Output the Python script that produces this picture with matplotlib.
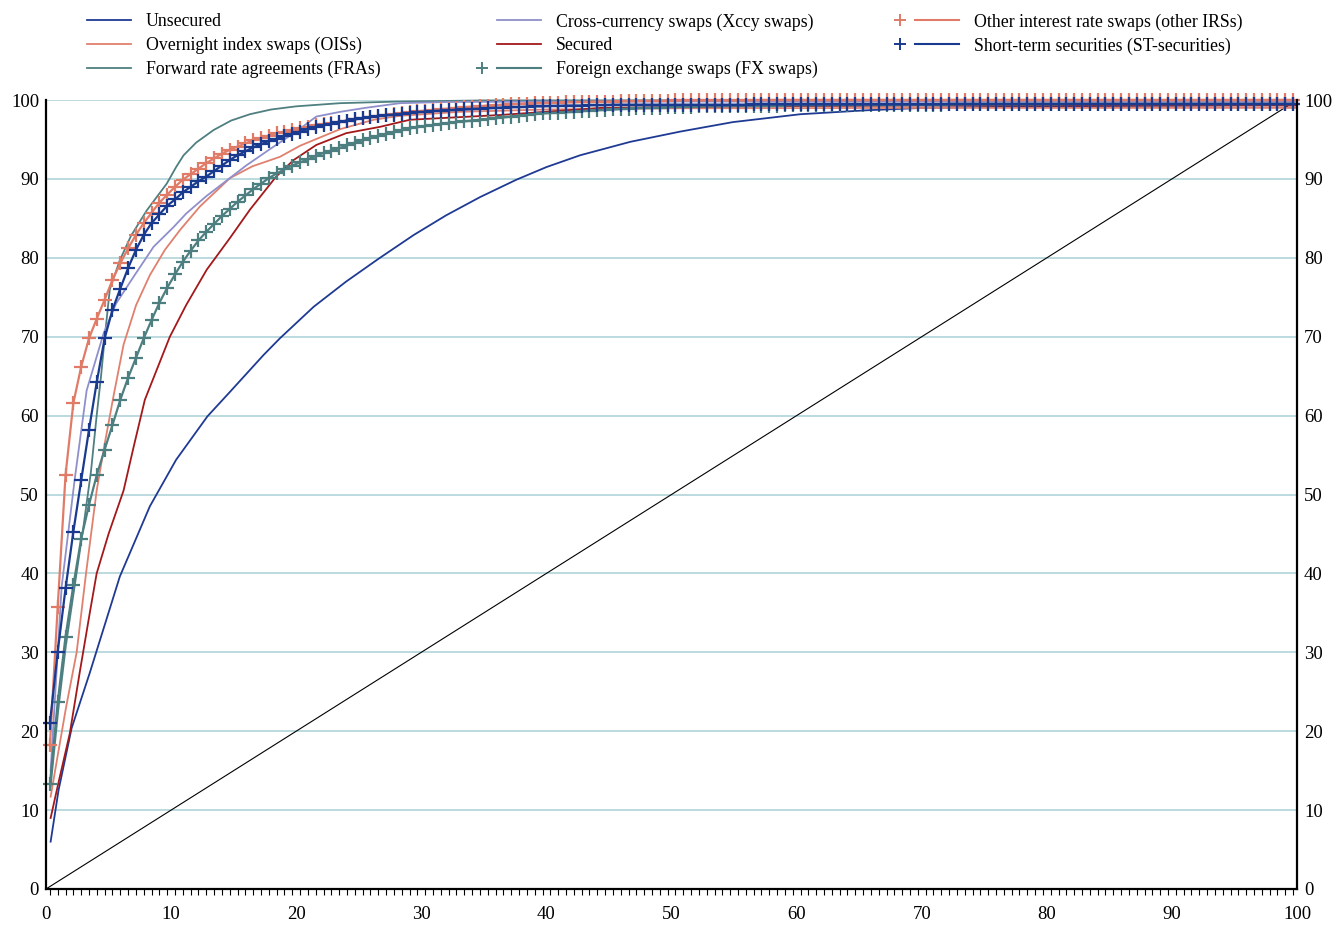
import numpy as np
import matplotlib
matplotlib.use("Agg")
import matplotlib.pyplot as plt
from matplotlib.lines import Line2D
from matplotlib.legend_handler import HandlerBase

plt.rcParams["font.family"] = ["Liberation Serif", "DejaVu Serif"]

# --- Données : parts cumulées (%) ---
# séries sans marqueurs : points
unsecured_x = [0.37, 1.0, 2.05, 3.5, 5.9, 8.3, 10.4, 12.9, 14.7, 17.4, 18.7, 21.4, 24.0, 26.6,
               29.4, 32.0, 34.7, 37.6, 40.0, 42.7, 46.7, 50.7, 54.9, 60.3, 65.6, 70.0, 75.0,
               80.0, 90.0, 100.0]
unsecured_y = [6.0, 12.5, 20.4, 27.4, 39.6, 48.5, 54.4, 59.9, 63.0, 67.7, 69.8, 73.8, 77.0, 79.9,
               82.9, 85.4, 87.7, 89.9, 91.5, 93.0, 94.7, 96.0, 97.2, 98.2, 98.7, 99.0, 99.1,
               99.2, 99.3, 99.4]

ois_x = [0.37, 1.0, 1.6, 2.45, 3.2, 4.05, 4.7, 5.4, 6.2, 7.2, 8.3, 9.5, 10.7, 12.3, 14.7,
         16.5, 18.7, 20.3, 23.5, 26.2, 28.3, 33.0, 40.0, 50.0, 70.0, 100.0]
ois_y = [11.7, 17.5, 23.0, 30.0, 40.0, 50.5, 56.5, 62.5, 69.0, 74.0, 77.8, 81.0, 83.5, 86.5,
         90.1, 91.6, 92.8, 94.2, 96.3, 97.5, 98.0, 98.5, 98.8, 98.95, 99.0, 99.0]

fra_x = [0.37, 1.0, 1.6, 2.3, 3.0, 3.6, 4.05, 4.4, 4.7, 5.1, 5.9, 6.8, 8.05, 9.65, 10.4, 11.0,
         12.0, 13.4, 14.8, 16.3, 18.0, 20.0, 23.5, 28.0, 35.0, 100.0]
fra_y = [13.0, 23.0, 31.0, 38.5, 46.0, 53.0, 60.0, 65.0, 70.0, 76.0, 79.7, 82.8, 86.0, 89.4,
         91.5, 93.0, 94.6, 96.2, 97.4, 98.2, 98.8, 99.2, 99.6, 99.8, 99.95, 100.0]

xccy_x = [0.37, 1.25, 2.3, 3.25, 4.6, 5.6, 7.0, 8.6, 10.2, 11.2, 12.8, 14.2, 16.0, 18.2, 20.0,
          21.6, 23.5, 25.5, 28.3, 32.0, 40.0, 60.0, 100.0]
xccy_y = [15.0, 38.3, 52.0, 63.2, 70.4, 74.2, 77.6, 81.4, 83.9, 85.6, 87.8, 89.5, 91.7, 94.1,
          96.0, 97.9, 98.5, 99.0, 99.6, 99.75, 99.8, 99.8, 99.8]

secured_x = [0.37, 1.0, 1.9, 2.7, 3.5, 4.05, 5.0, 6.2, 7.0, 7.9, 9.9, 11.2, 12.85, 14.7, 16.3,
             18.4, 19.8, 21.6, 24.0, 26.7, 29.1, 36.3, 44.3, 55.0, 70.0, 100.0]
secured_y = [9.0, 13.5, 19.7, 27.5, 35.0, 40.0, 45.0, 50.5, 56.0, 62.0, 70.0, 74.0, 78.5, 82.5,
             86.1, 90.3, 92.4, 94.3, 95.8, 96.6, 97.5, 98.1, 99.0, 99.2, 99.3, 99.3]

# séries avec marqueurs : une valeur par établissement (160 points)
fx_swaps = [
    13.3, 23.7, 32.0, 38.5, 44.4, 48.7, 52.5, 55.7, 58.8, 62.0,
    64.8, 67.3, 69.8, 72.1, 74.3, 76.2, 77.9, 79.5, 80.9, 82.2,
    83.3, 84.3, 85.3, 86.2, 87.1, 87.9, 88.7, 89.4, 90.1, 90.7,
    91.2, 91.7, 92.1, 92.5, 92.9, 93.3, 93.6, 93.9, 94.25, 94.6,
    94.9, 95.2, 95.45, 95.7, 95.95, 96.2, 96.4, 96.55, 96.7, 96.85,
    97.0, 97.1, 97.2, 97.3, 97.4, 97.5, 97.6, 97.7, 97.8, 97.9,
    98.0, 98.1, 98.2, 98.3, 98.35, 98.4, 98.45, 98.5, 98.6, 98.65,
    98.7, 98.75, 98.8, 98.85, 98.9, 98.95, 99.0, 99.0, 99.05, 99.1,
    99.1, 99.15, 99.15, 99.2, 99.2, 99.2, 99.25, 99.25, 99.25, 99.3,
    99.3, 99.3, 99.3, 99.3, 99.35, 99.35, 99.35, 99.35, 99.35, 99.35,
    99.4, 99.4, 99.4, 99.4, 99.4, 99.4, 99.4, 99.4, 99.4, 99.4,
    99.4, 99.4, 99.4, 99.4, 99.4, 99.45, 99.45, 99.45, 99.45, 99.45,
    99.45, 99.45, 99.45, 99.45, 99.45, 99.45, 99.45, 99.45, 99.45, 99.45,
    99.5, 99.5, 99.5, 99.5, 99.5, 99.5, 99.5, 99.5, 99.5, 99.5,
    99.5, 99.5, 99.5, 99.5, 99.5, 99.5, 99.5, 99.5, 99.5, 99.5,
    99.5, 99.5, 99.5, 99.5, 99.5, 99.5, 99.5, 99.5, 99.5, 99.5,
]

other_irs = [
    18.3, 35.8, 52.5, 61.6, 66.2, 69.8, 72.3, 74.7, 77.2, 79.3,
    81.2, 82.9, 84.4, 85.7, 87.0, 88.0, 89.0, 89.9, 90.6, 91.3,
    92.0, 92.6, 93.2, 93.7, 94.1, 94.5, 94.9, 95.2, 95.5, 95.8,
    96.0, 96.2, 96.4, 96.6, 96.8, 96.95, 97.1, 97.25, 97.4, 97.55,
    97.7, 97.8, 97.95, 98.1, 98.2, 98.35, 98.45, 98.55, 98.65, 98.75,
    98.85, 98.9, 99.0, 99.1, 99.15, 99.2, 99.3, 99.35, 99.4, 99.45,
    99.5, 99.55, 99.6, 99.6, 99.65, 99.65, 99.7, 99.7, 99.75, 99.75,
    99.8, 99.8, 99.8, 99.85, 99.85, 99.85, 99.9, 99.9, 99.9, 99.9,
    99.95, 99.95, 99.95, 99.95, 99.95, 99.95, 99.95, 99.95, 99.95, 99.95,
    100.0, 100.0, 100.0, 100.0, 100.0, 100.0, 100.0, 100.0, 100.0, 100.0,
    100.0, 100.0, 100.0, 100.0, 100.0, 100.0, 100.0, 100.0, 100.0, 100.0,
    100.0, 100.0, 100.0, 100.0, 100.0, 100.0, 100.0, 100.0, 100.0, 100.0,
    100.0, 100.0, 100.0, 100.0, 100.0, 100.0, 100.0, 100.0, 100.0, 100.0,
    100.0, 100.0, 100.0, 100.0, 100.0, 100.0, 100.0, 100.0, 100.0, 100.0,
    100.0, 100.0, 100.0, 100.0, 100.0, 100.0, 100.0, 100.0, 100.0, 100.0,
    100.0, 100.0, 100.0, 100.0, 100.0, 100.0, 100.0, 100.0, 100.0, 100.0,
]

st_securities = [
    21.0, 30.1, 38.1, 45.3, 51.8, 58.2, 64.3, 69.8, 73.4, 76.1,
    78.7, 81.0, 82.9, 84.4, 85.5, 86.6, 87.4, 88.3, 89.0, 89.7,
    90.3, 91.0, 91.7, 92.4, 93.0, 93.5, 94.0, 94.4, 94.8, 95.1,
    95.4, 95.7, 96.0, 96.3, 96.6, 96.8, 97.0, 97.2, 97.4, 97.55,
    97.7, 97.85, 97.95, 98.05, 98.15, 98.25, 98.35, 98.45, 98.5, 98.6,
    98.65, 98.7, 98.75, 98.8, 98.85, 98.9, 98.95, 99.0, 99.05, 99.1,
    99.1, 99.15, 99.2, 99.2, 99.25, 99.25, 99.3, 99.3, 99.3, 99.35,
    99.35, 99.35, 99.4, 99.4, 99.4, 99.4, 99.4, 99.4, 99.4, 99.4,
    99.4, 99.4, 99.4, 99.4, 99.4, 99.4, 99.4, 99.4, 99.4, 99.4,
    99.45, 99.45, 99.45, 99.45, 99.45, 99.45, 99.45, 99.45, 99.45, 99.45,
    99.45, 99.45, 99.45, 99.45, 99.45, 99.45, 99.45, 99.45, 99.45, 99.45,
    99.45, 99.45, 99.45, 99.45, 99.45, 99.5, 99.5, 99.5, 99.5, 99.5,
    99.5, 99.5, 99.5, 99.5, 99.5, 99.5, 99.5, 99.5, 99.5, 99.5,
    99.5, 99.5, 99.5, 99.5, 99.5, 99.5, 99.5, 99.5, 99.5, 99.5,
    99.5, 99.5, 99.5, 99.5, 99.5, 99.5, 99.5, 99.5, 99.5, 99.5,
    99.5, 99.5, 99.5, 99.5, 99.5, 99.5, 99.5, 99.5, 99.5, 99.5,
]

# droite d'égalité
equality = [0, 100]

# couleurs
C_UNSEC = "#1f3a93"
C_OIS = "#e0806e"
C_FRA = "#4f7f80"
C_XCCY = "#8f8fcc"
C_SEC = "#a3191b"
C_FX = "#4e7f80"
C_IRS = "#e07b68"
C_ST = "#1a3a8f"
C_GRID = "#a9cfd6"


class HandlerMarkerLeft(HandlerBase):
    """Poignée de légende : marqueur '+' à gauche, puis le trait."""

    def create_artists(self, legend, orig_handle, xdescent, ydescent,
                       width, height, fontsize, trans):
        y = height / 2 - ydescent
        line = Line2D([-xdescent, width - xdescent], [y, y],
                      color=orig_handle.get_color(), lw=1.5)
        mark = Line2D([-xdescent - 0.85 * fontsize], [y], marker="+",
                      ms=8, mew=1.4, color=orig_handle.get_color(), ls="none")
        line.set_transform(trans)
        mark.set_transform(trans)
        return [line, mark]


def main():
    n = len(st_securities)
    x_pts = (np.arange(n) + 0.5) * 100.0 / n

    fig = plt.figure(figsize=(13.38, 9.27), dpi=100)
    ax = fig.add_axes([0.03438, 0.041, 0.935, 0.8511])

    common = dict(clip_on=False, solid_joinstyle="round")
    ax.plot(equality, equality, color="black", lw=0.8, **common)

    h_unsec, = ax.plot(unsecured_x, unsecured_y, color=C_UNSEC, lw=1.3, **common)
    h_ois, = ax.plot(ois_x, ois_y, color=C_OIS, lw=1.3, **common)
    h_fra, = ax.plot(fra_x, fra_y, color=C_FRA, lw=1.3, **common)
    h_xccy, = ax.plot(xccy_x, xccy_y, color=C_XCCY, lw=1.3, **common)
    h_sec, = ax.plot(secured_x, secured_y, color=C_SEC, lw=1.3, **common)
    h_fx, = ax.plot(x_pts, fx_swaps, color=C_FX, lw=1.6, marker="+", ms=10, mew=1.6, **common)
    h_irs, = ax.plot(x_pts, other_irs, color=C_IRS, lw=1.6, marker="+", ms=10, mew=1.6, **common)
    h_st, = ax.plot(x_pts, st_securities, color=C_ST, lw=1.6, marker="+", ms=10, mew=1.6, **common)

    # axes
    ax.set_xlim(0, 100)
    ax.set_ylim(0, 100)
    ax.set_xticks(np.arange(0, 101, 10))
    ax.set_xticks(x_pts, minor=True)
    ax.set_yticks(np.arange(0, 101, 10))
    ax.tick_params(axis="x", which="major", length=0, pad=12, labelsize=13.5)
    ax.tick_params(axis="x", which="minor", length=4, width=0.8, direction="out")
    ax.tick_params(axis="y", which="both", length=0, labelsize=13.5,
                   left=True, right=True, labelleft=True, labelright=True, pad=5)

    for y in range(10, 101, 10):
        ax.axhline(y, color=C_GRID, lw=1.1, zorder=0)

    ax.spines["top"].set_visible(False)
    for side in ("left", "right", "bottom"):
        ax.spines[side].set_linewidth(1.6)
        ax.spines[side].set_color("black")

    # légende en trois colonnes
    fs = 12.8
    leg_kw = dict(frameon=False, fontsize=fs, handlelength=2.45, handletextpad=0.85,
                  labelspacing=0.38, borderpad=0, borderaxespad=0, loc="upper left")
    hmap = {h_fx: HandlerMarkerLeft(), h_irs: HandlerMarkerLeft(), h_st: HandlerMarkerLeft()}

    top = 0.9856
    fig.legend([h_unsec, h_ois, h_fra],
               ["Unsecured", "Overnight index swaps (OISs)", "Forward rate agreements (FRAs)"],
               bbox_to_anchor=(0.065, top), **leg_kw)
    fig.legend([h_xccy, h_sec, h_fx],
               ["Cross-currency swaps (Xccy swaps)", "Secured", "Foreign exchange swaps (FX swaps)"],
               bbox_to_anchor=(0.3715, top), handler_map=hmap, **leg_kw)
    fig.legend([h_irs, h_st],
               ["Other interest rate swaps (other IRSs)", "Short-term securities (ST-securities)"],
               bbox_to_anchor=(0.684, top), handler_map=hmap, **leg_kw)

    fig.savefig("out.png", dpi=100)
    plt.close(fig)


if __name__ == "__main__":
    main()
